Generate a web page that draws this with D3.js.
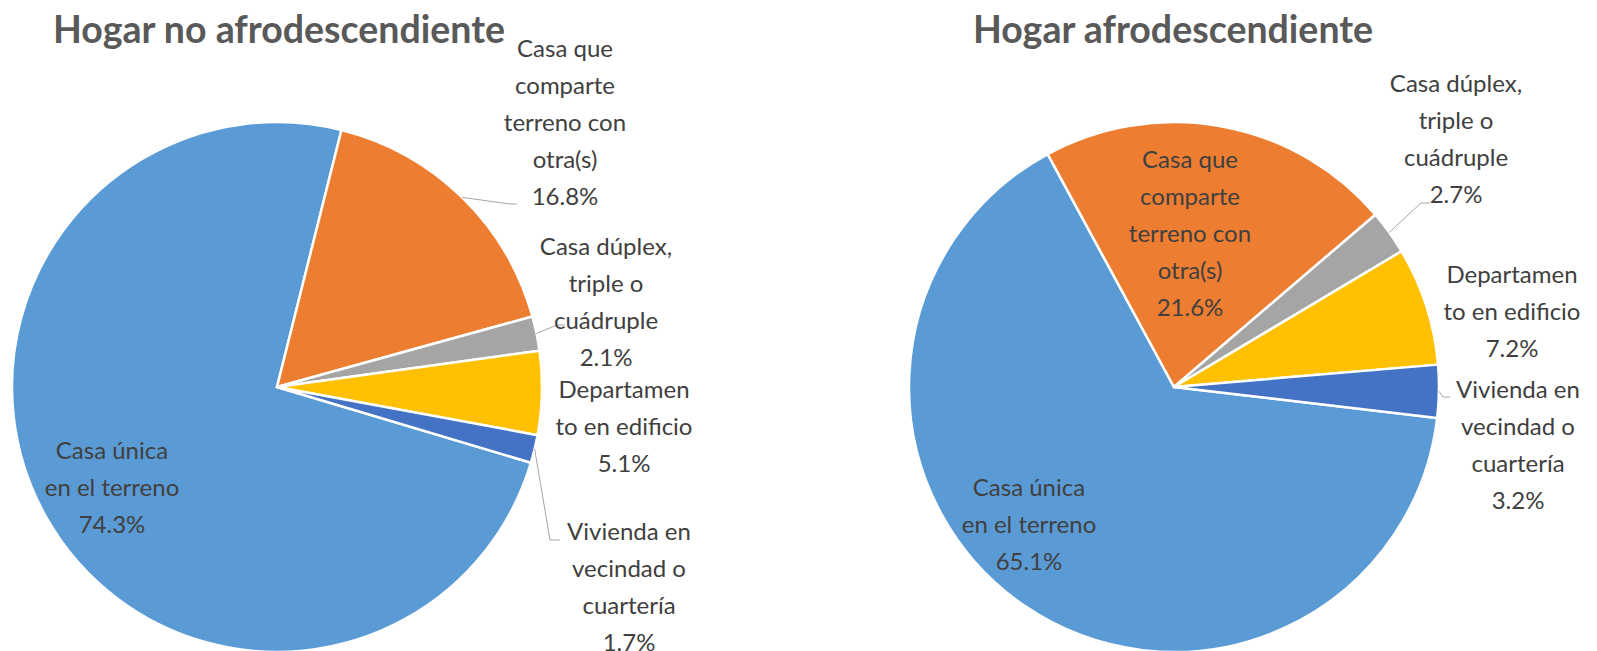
<!DOCTYPE html>
<html>
<head>
<meta charset="utf-8">
<script src="https://cdn.jsdelivr.net/npm/d3@7"></script>
<style>
  html, body { margin: 0; padding: 0; background: #ffffff; }
  svg { display: block; }
</style>
</head>
<body>
<svg id="chart" width="1597" height="651"></svg>
<script>
// Housing type shares (%) by household group
const categories = [
  "Casa única en el terreno",
  "Casa que comparte terreno con otra(s)",
  "Casa dúplex, triple o cuádruple",
  "Departamento en edificio",
  "Vivienda en vecindad o cuartería"
];
// Wrapped label lines for each category
const labelLines = [
  ["Casa única", "en el terreno"],
  ["Casa que", "comparte", "terreno con", "otra(s)"],
  ["Casa dúplex,", "triple o", "cuádruple"],
  ["Departamen", "to en edificio"],
  ["Vivienda en", "vecindad o", "cuartería"]
];
const titles = ["Hogar no afrodescendiente", "Hogar afrodescendiente"];
const valuesNoAfro = [74.3, 16.8, 2.1, 5.1, 1.7];
const valuesAfro = [65.1, 21.6, 2.7, 7.2, 3.2];
const colors = ["#5B9BD5", "#ED7D31", "#A5A5A5", "#FFC000", "#4472C4"];

const svg = d3.select("#chart");
const FONT = "Lato, 'Open Sans', sans-serif";
const R = 265;
const LINE = 37;
const deg = Math.PI / 180;

// Layout for each pie: centre, rotation, label centres and leader elbows
const layouts = [
  {
    values: valuesNoAfro, title: titles[0], cx: 277, cy: 387, titleX: 279, start: 106.6,
    labels: [
      { x: 112, y: 451 },
      { x: 565, y: 49, leader: [[510, 204], [517, 204]] },
      { x: 606, y: 247, leader: [[557, 325], [565, 325]] },
      { x: 624, y: 390 },
      { x: 629, y: 532, leader: [[550, 540], [560, 540]] }
    ]
  },
  {
    values: valuesAfro, title: titles[1], cx: 1174, cy: 387, titleX: 1173, start: 96.7,
    labels: [
      { x: 1029, y: 488 },
      { x: 1190, y: 160 },
      { x: 1456, y: 84, leader: [[1421, 203], [1430, 203]] },
      { x: 1512, y: 275 },
      { x: 1518, y: 390, leader: [[1443, 397], [1450, 397]] }
    ]
  }
];

const arc = d3.arc().innerRadius(0).outerRadius(R);

layouts.forEach(L => {
  const pie = d3.pie().sort(null).value(d => d)
    .startAngle(L.start * deg).endAngle(L.start * deg + 2 * Math.PI);
  const arcs = pie(L.values);
  const g = svg.append("g").attr("transform", `translate(${L.cx},${L.cy})`);

  g.selectAll("path.slice")
    .data(arcs)
    .join("path")
    .attr("class", "slice")
    .attr("d", arc)
    .attr("fill", (d, i) => colors[i])
    .attr("stroke", "#ffffff")
    .attr("stroke-width", 2.5)
    .attr("stroke-linejoin", "round");

  // Leader lines from slice edge to the label
  arcs.forEach((d, i) => {
    const lab = L.labels[i];
    if (!lab.leader) return;
    const mid = (d.startAngle + d.endAngle) / 2;
    const p0 = [L.cx + R * Math.sin(mid), L.cy - R * Math.cos(mid)];
    const pts = [p0].concat(lab.leader);
    svg.append("path")
      .attr("d", d3.line()(pts))
      .attr("fill", "none")
      .attr("stroke", "#A6A6A6")
      .attr("stroke-width", 1);
  });

  // Data labels: category lines plus percentage
  arcs.forEach((d, i) => {
    const lab = L.labels[i];
    const lines = labelLines[i].concat([d3.format(".1f")(L.values[i]) + "%"]);
    const t = svg.append("text")
      .attr("font-family", FONT)
      .attr("font-size", 24)
      .attr("fill", "#404040")
      .attr("text-anchor", "middle");
    lines.forEach((ln, k) => {
      t.append("tspan")
        .attr("x", lab.x)
        .attr("y", lab.y + k * LINE)
        .attr("dy", "0.35em")
        .text(ln);
    });
  });

  svg.append("text")
    .attr("x", L.titleX)
    .attr("y", 30)
    .attr("dy", "0.35em")
    .attr("text-anchor", "middle")
    .attr("font-family", FONT)
    .attr("font-weight", "bold")
    .attr("font-size", 37.5)
    .attr("fill", "#595959")
    .text(L.title);
});
</script>
</body>
</html>
